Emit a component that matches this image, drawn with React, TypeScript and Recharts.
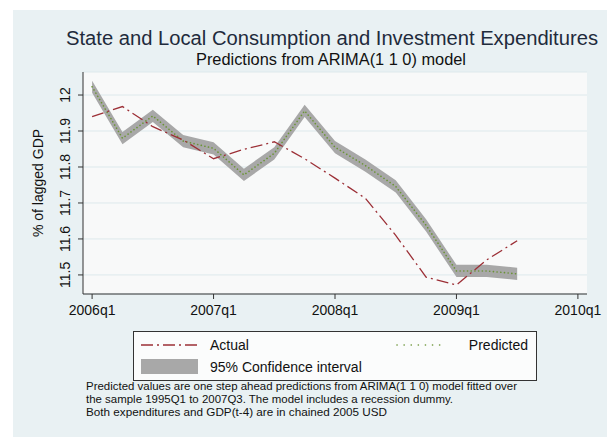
import { Area, CartesianGrid, ComposedChart, Line, XAxis, YAxis } from "recharts";

// quarters 2006q1 .. 2009q3, indexed 0..14 on a numeric axis
const quarters = ["2006q1","2006q2","2006q3","2006q4","2007q1","2007q2","2007q3","2007q4","2008q1","2008q2","2008q3","2008q4","2009q1","2009q2","2009q3"];
const actual = [11.94, 11.968, 11.912, 11.875, 11.823, 11.849, 11.87, 11.823, 11.769, 11.713, 11.61, 11.494, 11.472, 11.542, 11.595];
const predicted = [12.023, 11.88, 11.942, 11.872, 11.852, 11.778, 11.838, 11.956, 11.855, 11.804, 11.746, 11.638, 11.511, 11.511, 11.503];
const ciLower = [12.006, 11.863, 11.925, 11.855, 11.835, 11.761, 11.821, 11.939, 11.838, 11.787, 11.729, 11.621, 11.494, 11.494, 11.486];
const ciUpper = [12.04, 11.897, 11.959, 11.889, 11.869, 11.795, 11.855, 11.973, 11.872, 11.821, 11.763, 11.655, 11.528, 11.528, 11.52];

const xTicks = [0, 4, 8, 12, 16];
const xTickLabels = ["2006q1", "2007q1", "2008q1", "2009q1", "2010q1"];
const yTicks = [11.5, 11.6, 11.7, 11.8, 11.9, 12];

const footnote = [
  "Predicted values are one step ahead predictions from ARIMA(1 1 0) model fitted over",
  "the sample 1995Q1 to 2007Q3. The model includes a recession dummy.",
  "Both expenditures and GDP(t-4) are in chained 2005 USD",
];
const footnoteWidths = [431, 367, 301];

const data = quarters.map((q, i) => ({
  t: i,
  q,
  actual: actual[i],
  predicted: predicted[i],
  ci: [ciLower[i], ciUpper[i]],
}));

const RED = "#9c2f36";
const GREEN = "#6b9436";
const BAND = "#a8a8a8";
const FONT = "'Liberation Sans', Arial, sans-serif";

function YTick(props: any) {
  const { x, y, payload } = props;
  return (
    <text x={x} y={y} transform={`rotate(-90 ${x} ${y})`} textAnchor="middle" fontSize={14} fill="#111" fontFamily={FONT}>
      {payload.value === 12 ? "12" : payload.value.toFixed(1)}
    </text>
  );
}

export default function App() {
  return (
    <div style={{ position: "absolute", left: 0, top: 0, width: 607, height: 437, background: "#fff", fontFamily: FONT }}>
      <div style={{ position: "absolute", left: 13, top: 10, width: 594, height: 427, background: "#e9f1f3" }} />
      <div style={{ position: "absolute", left: 0, top: 0 }}>
        <ComposedChart width={607} height={437} data={data} margin={{ top: 72, right: 20, left: 23, bottom: 113 }}>
          <CartesianGrid vertical={false} stroke="#dde9ec" fill="#f8f9f9" />
          <XAxis
            dataKey="t"
            type="number"
            domain={[-0.3, 16.3]}
            ticks={xTicks}
            tickFormatter={(v) => xTickLabels[xTicks.indexOf(v)]}
            stroke="#333"
            tick={{ fill: "#111", fontSize: 14, fontFamily: FONT }}
            tickSize={5}
            tickMargin={6}
            height={30}
            allowDataOverflow
          />
          <YAxis
            type="number"
            domain={[11.447, 12.064]}
            ticks={yTicks}
            stroke="#333"
            tick={<YTick />}
            tickSize={5}
            tickMargin={8}
            width={60}
            allowDataOverflow
          />
          <Area dataKey="ci" type="linear" fill={BAND} fillOpacity={1} stroke="none" isAnimationActive={false} />
          <Line dataKey="predicted" type="linear" stroke={GREEN} strokeWidth={1.6} strokeDasharray="0.1 3.6" strokeLinecap="round" dot={false} isAnimationActive={false} />
          <Line dataKey="actual" type="linear" stroke={RED} strokeWidth={1.3} strokeDasharray="12 4 2 4" dot={false} isAnimationActive={false} />
        </ComposedChart>
      </div>
      <svg width={607} height={437} style={{ position: "absolute", left: 0, top: 0, pointerEvents: "none" }} fontFamily={FONT}>
        <text x={66} y={45} fontSize={20} fill="#1f2b3c" textLength={532} lengthAdjust="spacingAndGlyphs">
          State and Local Consumption and Investment Expenditures
        </text>
        <text x={196} y={65} fontSize={16} fill="#111" textLength={270} lengthAdjust="spacingAndGlyphs">
          Predictions from ARIMA(1 1 0) model
        </text>
        <text transform="translate(43 183) rotate(-90)" textAnchor="middle" fontSize={14} fill="#111">
          % of lagged GDP
        </text>

        <rect x={133.5} y={331.5} width={403} height={49} fill="#fbfcfc" stroke="#333" strokeWidth={1} />
        <line x1={141} y1={345} x2={198} y2={345} stroke={RED} strokeWidth={1.3} strokeDasharray="12 4 2 4" />
        <text x={210} y={350} fontSize={14} fill="#111">Actual</text>
        <line x1={397} y1={345} x2={446} y2={345} stroke={GREEN} strokeWidth={1.6} strokeDasharray="0.1 7" strokeLinecap="round" />
        <text x={528} y={350} fontSize={14} fill="#111" textAnchor="end">Predicted</text>
        <rect x={141} y={359} width={57} height={15} fill={BAND} />
        <text x={210} y={372} fontSize={14} fill="#111">95% Confidence interval</text>

        {footnote.map((line, i) => (
          <text key={i} x={86} y={390 + i * 13} fontSize={11} fill="#111" textLength={footnoteWidths[i]} lengthAdjust="spacingAndGlyphs">
            {line}
          </text>
        ))}
      </svg>
    </div>
  );
}
